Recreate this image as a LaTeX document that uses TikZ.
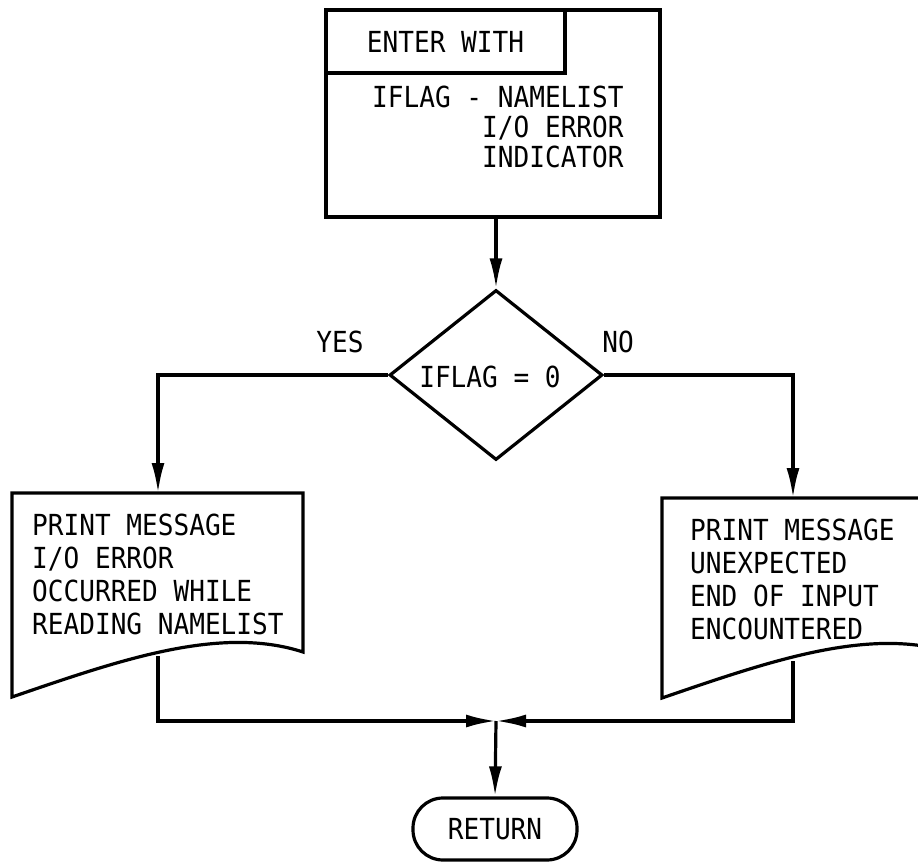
\documentclass[tikz,border=0pt]{standalone}
\usepackage{fontspec}
\newfontfamily\flowfont[FakeStretch=0.9]{DejaVu Sans Mono}
\usetikzlibrary{arrows.meta,shapes.geometric}

\tikzset{
  every node/.style={font=\flowfont\fontsize{29}{30}\selectfont, inner sep=0pt},
  outline/.style={draw=black, line width=3.2pt, line join=miter},
  flow/.style={draw=black, line width=3.2pt, -{Latex[length=30pt,width=13pt]}},
  doctext/.style={align=left, font=\flowfont\fontsize{29}{33}\selectfont},
}

\begin{document}
\begin{tikzpicture}[x=1pt,y=-1pt]
  \useasboundingbox[fill=white] (0,0) rectangle (918,866);

  % entry block with its heading tab
  \node[outline, minimum width=334pt, minimum height=207pt] (enter) at (493,113.5) {};
  \node[outline, minimum width=239pt, minimum height=63pt] (entertab) at (445.5,41.5) {ENTER WITH};
  \node[align=left, anchor=west] (args) at (372,127)
    {IFLAG - NAMELIST\\\hphantom{IFLAG -}I/O ERROR\\\hphantom{IFLAG -}INDICATOR};

  % decision
  \node[outline, diamond, aspect=1.25, minimum width=213pt, minimum height=170pt] (dec) at (496,375) {};
  \node (dectext) at (490,377) {IFLAG = 0};
  \node (yes) at (340,342) {YES};
  \node (no) at (618,342) {NO};

  % left document: I/O error message
  \draw[outline] (12,493) -- (303,493) -- (303,652)
     .. controls (220,625) and (120,660) .. (12,697) -- cycle;
  \node[doctext, anchor=west] (yesmsg) at (32,574)
    {PRINT MESSAGE\\I/O ERROR\\OCCURRED WHILE\\READING NAMELIST};

  % right document: end of input message
  \draw[outline] (662,498) -- (953,498) -- (953,653)
     .. controls (870,626) and (770,661) .. (662,698) -- cycle;
  \node[doctext, anchor=west] (nomsg) at (690,579)
    {PRINT MESSAGE\\UNEXPECTED\\END OF INPUT\\ENCOUNTERED};

  % terminal
  \node[outline, rounded corners=30pt, minimum width=164pt, minimum height=62pt] (ret) at (495,829) {RETURN};

  % connection points
  \coordinate (ltop) at (158,493);
  \coordinate (rtop) at (793,498);
  \coordinate (lbot) at (158,656);
  \coordinate (rbot) at (793,661);
  \coordinate (join) at (496,721);

  % connectors
  \draw[flow] (dec.north |- enter.south) -- (dec.north);
  \draw[flow] (dec.west) -| (ltop);
  \draw[flow] (dec.east) -| (rtop);
  \draw[flow] (lbot) |- (join);
  \draw[flow] (rbot) |- (join);
  \draw[flow] (join) -- (ret.north);
\end{tikzpicture}
\end{document}
